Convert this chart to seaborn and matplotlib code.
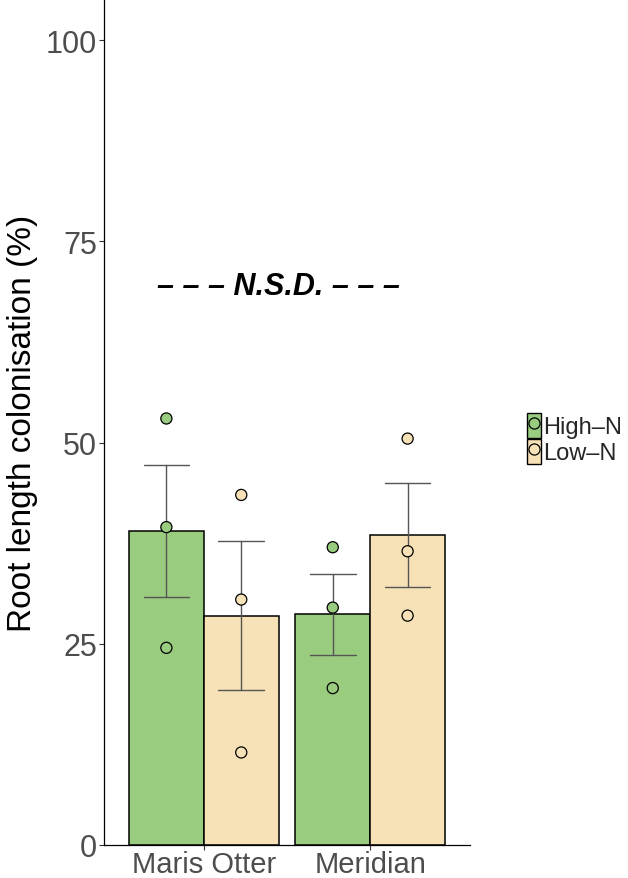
import numpy as np
import pandas as pd
import seaborn as sns
import matplotlib.pyplot as plt
from matplotlib.patches import Patch
from matplotlib.lines import Line2D
from matplotlib.legend_handler import HandlerTuple

# DATA
cultivars = ["Maris Otter", "Meridian"]
treatments = ["High–N", "Low–N"]
maris_high = [53.0, 39.5, 24.5]
maris_low = [43.5, 30.5, 11.5]
meridian_high = [37.0, 29.5, 19.5]
meridian_low = [50.5, 36.5, 28.5]
yticks = [0, 25, 50, 75, 100]
colours = ["#99CC7F", "#F6E2B6"]

rows = []
for cv, tr, vals in [(cultivars[0], treatments[0], maris_high),
                     (cultivars[0], treatments[1], maris_low),
                     (cultivars[1], treatments[0], meridian_high),
                     (cultivars[1], treatments[1], meridian_low)]:
    for v in vals:
        rows.append({"cultivar": cv, "treatment": tr, "rlc": v})
df = pd.DataFrame(rows)

sns.set_style("ticks")
plt.rcParams["font.family"] = ["Liberation Sans", "DejaVu Sans"]

fig = plt.figure(figsize=(6.28, 8.79), dpi=100)
ax = fig.add_axes([104 / 628, 33 / 879, 366 / 628, 845 / 879])

# BARS + SE
sns.barplot(data=df, x="cultivar", y="rlc", hue="treatment", order=cultivars,
            hue_order=treatments, palette=colours, saturation=1, errorbar="se",
            capsize=0.55, err_kws={"color": "#555555", "linewidth": 1.0},
            width=0.9, gap=0, edgecolor="black", linewidth=1.1, legend=False, ax=ax)

# RAW POINTS
sns.stripplot(data=df, x="cultivar", y="rlc", hue="treatment", order=cultivars,
              hue_order=treatments, palette=colours, dodge=True, jitter=False,
              size=8, edgecolor="black", linewidth=0.9, legend=False, ax=ax)
# line points up with the 0.9-wide dodged bars
for coll in ax.collections:
    off = np.asarray(coll.get_offsets()).copy()
    if len(off):
        c = np.round(off[:, 0])
        off[:, 0] = c + (off[:, 0] - c) * 0.9 / 0.8
        coll.set_offsets(off)

ax.text(0.45, 69.4, "– – – N.S.D. – – –", ha="center", va="center",
        fontsize=22, fontweight="bold", fontstyle="italic", color="black")

ax.set_xlim(-0.6, 1.6)
ax.set_ylim(0, 105)
ax.set_yticks(yticks)
ax.set_xlabel("")
ax.set_ylabel("Root length colonisation (%)", fontsize=24, color="black")
ax.yaxis.set_label_coords(-0.18, 0.5)
ax.tick_params(axis="both", colors="#333333", length=3.6, width=0.8,
               labelcolor="#4D4D4D", labelsize=22, pad=1.5)
ax.tick_params(axis="x", labelsize=21, pad=0.3)
sns.despine(ax=ax)
for s in ["left", "bottom"]:
    ax.spines[s].set_color("black")
    ax.spines[s].set_linewidth(0.9)

# LEGEND
handles = [(Patch(facecolor=c, edgecolor="black", linewidth=1.0),
            Line2D([], [], marker="o", ls="", markersize=8, markerfacecolor=c,
                   markeredgecolor="black", markeredgewidth=0.9))
           for c in colours]
fig.legend(handles, treatments, handler_map={tuple: HandlerTuple(ndivide=1)},
           loc="center left", bbox_to_anchor=(527 / 628, 0.5), frameon=False,
           fontsize=17, handlelength=0.6, handleheight=1.3, labelspacing=0,
           handletextpad=0.1, borderpad=0, borderaxespad=0)

fig.savefig("out.png", dpi=100)
